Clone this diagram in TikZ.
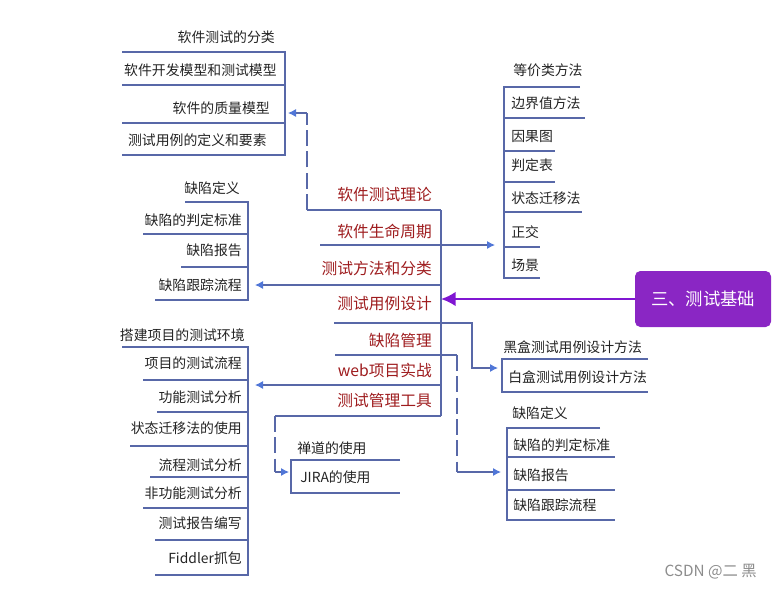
\documentclass[tikz,border=0pt]{standalone}
\usepackage{fontspec}
\setmainfont{Noto Sans CJK SC}
\usepackage{tikz}
\usetikzlibrary{arrows.meta}
\definecolor{wirec}{RGB}{88,104,168}
\definecolor{tipc}{RGB}{80,118,215}
\definecolor{redc}{RGB}{158,28,30}
\definecolor{inkc}{RGB}{35,35,35}
\definecolor{rootc}{RGB}{138,38,196}
\definecolor{hotc}{RGB}{128,22,210}

\begin{document}
\begin{tikzpicture}[x=0.75pt, y=-0.75pt]

  \tikzset{item/.style = {font=\fontsize{10.4}{12}\selectfont, text=inkc, inner sep=0pt}}
  \tikzset{branch/.style = {font=\fontsize{11.8}{14}\selectfont, text=redc, inner sep=0pt, anchor=east}}
  \tikzset{wire/.style = {draw=wirec, line width=0.8pt}}
  \tikzset{gapline/.style = {wire, dash pattern=on 12pt off 4pt}}
  \tikzset{link/.style = {wire, ->, > = {Latex[length=6pt, width=6pt, color=tipc]}}}
  \tikzset{hot/.style = {draw=hotc, line width=1.8pt, ->, > = {Latex[length=11pt, width=11pt]}}}
  \tikzset{rootbox/.style = {fill=rootc, text=white, rounded corners=4pt, minimum width=102pt,
      minimum height=42pt, font=\fontsize{13}{15}\selectfont}}
  \useasboundingbox (0,0) rectangle (772,590);

  % root
  \node[rootbox] (root) at (703,299) {三、测试基础};

  % center branch
  \node[branch] (th)   at (432,195) {软件测试理论};
  \node[branch] (life) at (432,231) {软件生命周期};
  \node[branch] (meth) at (432,268) {测试方法和分类};
  \node[branch] (case) at (432,304) {测试用例设计};
  \node[branch] (bug)  at (432,340) {缺陷管理};
  \node[branch] (web)  at (432,370) {web项目实战};
  \node[branch] (tool) at (432,400) {测试管理工具};
  \coordinate (top) at (441,210);
  \coordinate (bot) at (441,416);
  \draw[wire] (top) -- (bot);

  % test classification
  \node[item, anchor=east] (clsT) at (275,37)  {软件测试的分类};
  \node[item, anchor=east] (cls1) at (277,70)  {软件开发模型和测试模型};
  \node[item, anchor=east] (cls2) at (270,108) {软件的质量模型};
  \node[item, anchor=east] (cls3) at (267,140) {测试用例的定义和要素};
  \draw[wire] (122,52) -- (285,52) -- (285,155) -- (122,155);
  \draw[wire] (122,85) -- (285,85);
  \draw[wire] (122,123) -- (285,123);

  % defects, left
  \node[item, anchor=east] (dfB) at (240,188) {缺陷定义};
  \node[item, anchor=east] (b1)  at (242,220) {缺陷的判定标准};
  \node[item, anchor=east] (b2)  at (242,250) {缺陷报告};
  \node[item, anchor=east] (b3)  at (242,285) {缺陷跟踪流程};
  \draw[wire] (185,202) -- (248,202) -- (248,300) -- (155,300);
  \draw[wire] (143,234) -- (248,234);
  \draw[wire] (181,267) -- (248,267);

  % web project
  \node[item, anchor=east] (envT) at (245,335) {搭建项目的测试环境};
  \node[item, anchor=east] (p1) at (242,363) {项目的测试流程};
  \node[item, anchor=east] (p2) at (242,397) {功能测试分析};
  \node[item, anchor=east] (p3) at (242,428) {状态迁移法的使用};
  \node[item, anchor=east] (p4) at (242,465) {流程测试分析};
  \node[item, anchor=east] (p5) at (242,493) {非功能测试分析};
  \node[item, anchor=east] (p6) at (242,523) {测试报告编写};
  \node[item, anchor=east] (p7) at (242,558) {Fiddler抓包};
  \draw[wire] (122,347) -- (248,347) -- (248,575) -- (155,575);
  \draw[wire] (143,380) -- (248,380);
  \draw[wire] (157,412) -- (248,412);
  \draw[wire] (130,446) -- (248,446);
  \draw[wire] (150,477) -- (248,477);
  \draw[wire] (143,508) -- (248,508);
  \draw[wire] (155,540) -- (248,540);

  % design methods
  \node[item, anchor=west] (eqT) at (513,70)  {等价类方法};
  \node[item, anchor=west] (d1)  at (511,103) {边界值方法};
  \node[item, anchor=west] (d2)  at (511,137) {因果图};
  \node[item, anchor=west] (d3)  at (511,165) {判定表};
  \node[item, anchor=west] (d4)  at (511,198) {状态迁移法};
  \node[item, anchor=west] (d5)  at (511,232) {正交};
  \node[item, anchor=west] (d6)  at (511,265) {场景};
  \draw[wire] (580,87) -- (504,87) -- (504,278) -- (540,278);
  \draw[wire] (504,118) -- (585,118);
  \draw[wire] (504,151) -- (555,151);
  \draw[wire] (504,182) -- (555,182);
  \draw[wire] (504,212) -- (582,212);
  \draw[wire] (504,247) -- (540,247);

  % black and white box
  \node[item, anchor=west] (blk) at (503,347) {黑盒测试用例设计方法};
  \node[item, anchor=west] (wht) at (508,377) {白盒测试用例设计方法};
  \draw[wire] (648,359) -- (502,359) -- (502,392) -- (648,392);

  % defects, right
  \node[item, anchor=west] (dfF) at (512,413) {缺陷定义};
  \node[item, anchor=west] (f1)  at (513,445) {缺陷的判定标准};
  \node[item, anchor=west] (f2)  at (513,475) {缺陷报告};
  \node[item, anchor=west] (f3)  at (513,505) {缺陷跟踪流程};
  \draw[wire] (600,428) -- (507,428) -- (507,520) -- (615,520);
  \draw[wire] (507,457) -- (615,457);
  \draw[wire] (507,490) -- (615,490);

  % tools
  \node[item, anchor=west] (zen)  at (297,448) {禅道的使用};
  \node[item, anchor=west] (jira) at (300,477) {JIRA的使用};
  \draw[wire] (400,460) -- (291,460) -- (291,493) -- (400,493);

  % watermark
  \node[anchor=east, inner sep=0pt, text=black!45, font=\fontsize{11.5}{13}\selectfont] (csdn) at (757,572) {CSDN @二 黑};

  %edges
  \coordinate (inA) at (288,113);
  \coordinate (inB) at (255,285);
  \coordinate (inC) at (255,385);
  \coordinate (inD) at (495,245);
  \coordinate (inE) at (498,368);
  \coordinate (inF) at (501,472);
  \coordinate (inG) at (289,472);
  \coordinate (uD) at (320,245);
  \coordinate (uE) at (334,323);
  \coordinate (uF) at (335,355);
  \draw[wire] (top) -- ++(-134,0) coordinate (kA);
  \draw[gapline] (kA) -- (kA |- inA);
  \draw[link] (kA |- inA) -- (inA);
  \draw[link] (uD) -- (inD);
  \draw[link] (top |- inB) -- (inB);
  \draw[hot] (root.west) -- (root.west -| top);
  \draw[link] (uE) -- ++(138,0) |- (inE);
  \draw[wire] (uF) -- ++(122,0) coordinate (kF);
  \draw[gapline] (kF) -- (kF |- inF);
  \draw[link] (kF |- inF) -- (inF);
  \draw[link] (top |- inC) -- (inC);
  \draw[wire] (bot) -- ++(-166,0) coordinate (kG);
  \draw[gapline] (kG) -- (kG |- inG);
  \draw[link] (kG |- inG) -- (inG);
\end{tikzpicture}
\end{document}
